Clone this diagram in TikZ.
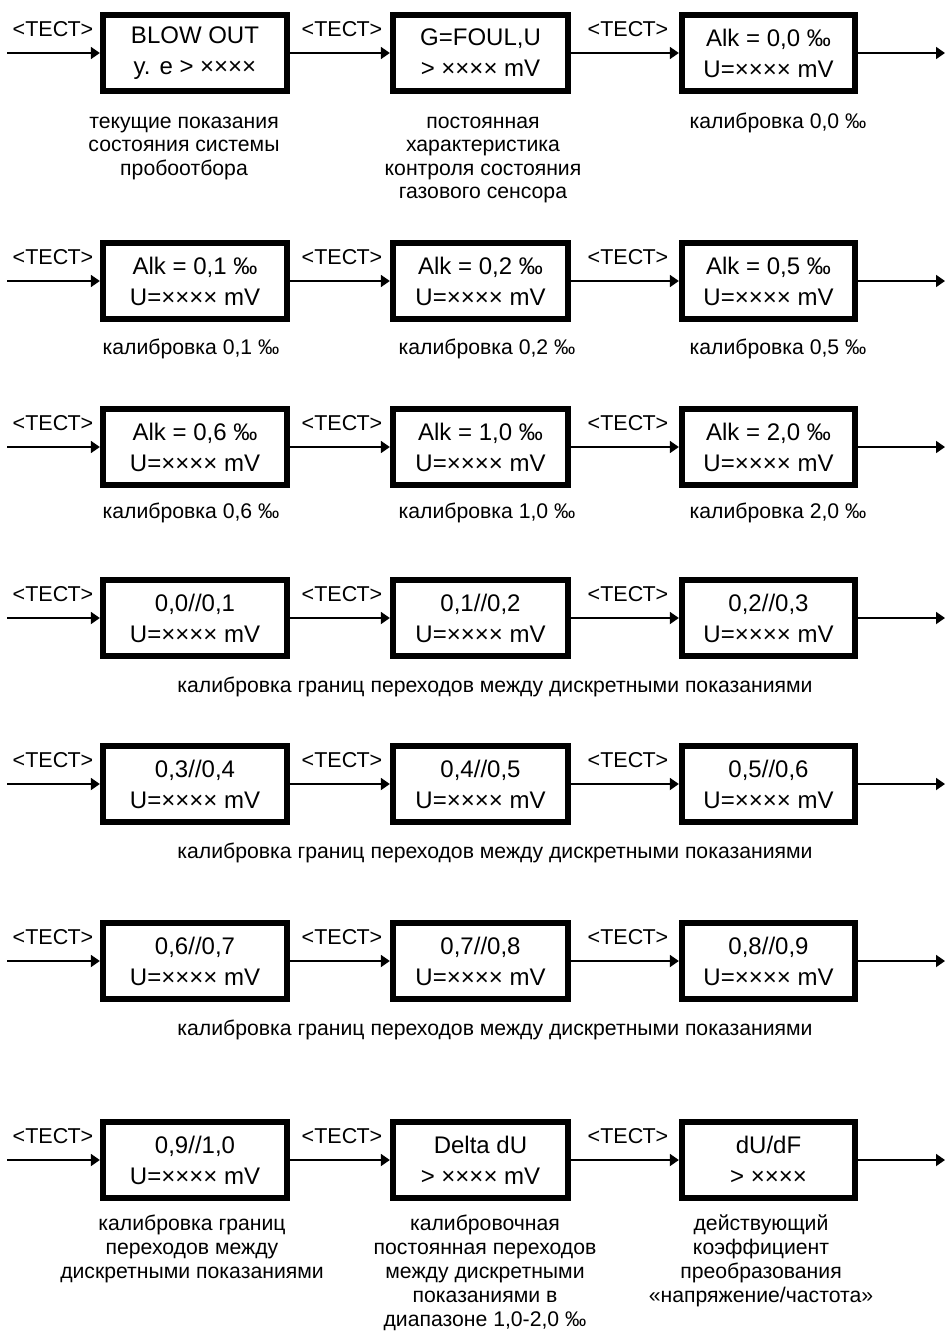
\documentclass[tikz,border=0pt]{standalone}
\usepackage{fontspec}
\setmainfont{Liberation Sans}
\usetikzlibrary{arrows.meta}
\newcommand\boxfont{\fontsize{24}{31}\selectfont}
\newcommand\capfont{\fontsize{21.2}{24}\selectfont}
\newcommand\capfonttight{\fontsize{21.2}{23.5}\selectfont}
\newcommand\lblfont{\fontsize{21.5}{24}\selectfont}
\tikzset{
  boxbase/.style={draw, line width=5.8pt, minimum height=76pt, inner sep=0pt, align=center, font=\boxfont},
  boxA/.style={boxbase, minimum width=184.5pt},
  boxB/.style={boxbase, minimum width=175.5pt},
  boxC/.style={boxbase, minimum width=173.5pt},
  arr/.style={line width=1.8pt, -{Triangle[length=9pt,width=12pt]}},
  lbl/.style={anchor=base, inner sep=0pt, font=\lblfont},
  capt/.style={anchor=north, inner sep=0pt, align=center, font=\capfont},
}
\newcommand\mkrow[5]{%
  \node[boxA] (#1a) at (195,#2) {#3};
  \node[boxB] (#1b) at (480.5,#2) {#4};
  \node[boxC] (#1c) at (768.5,#2) {#5};
  \coordinate (#1s) at (7,#2);
  \coordinate (#1e) at (945,#2);
  \draw[arr] (#1s) -- (#1a);
  \draw[arr] (#1a) -- (#1b);
  \draw[arr] (#1b) -- (#1c);
  \draw[arr] (#1c) -- (#1e);
  \node[lbl] (#1l1) at (53,#2-16.5) {<ТЕСТ>};
  \node[lbl] (#1l2) at (342,#2-16.5) {<ТЕСТ>};
  \node[lbl] (#1l3) at (628,#2-16.5) {<ТЕСТ>};
}
\begin{document}
\begin{tikzpicture}[x=1pt,y=-1pt]
\useasboundingbox[fill=white] (0,0) rectangle (946,1333);
% row 1
\mkrow{r1}{53}{BLOW OUT\\y. e > ××××}{G=FOUL,U\\> ×××× mV}{Alk = 0,0 ‰\\U=×××× mV}
\node[capt, font=\capfonttight] (r1ca) at (184,111.5) {\strut текущие показания\\состояния системы\\пробоотбора};
\node[capt, font=\capfonttight] (r1cb) at (483,111.5) {\strut постоянная\\характеристика\\контроля состояния\\газового сенсора};
\node[capt, font=\capfonttight] (r1cc) at (778,111.5) {\strut калибровка 0,0 ‰};
% row 2
\mkrow{r2}{281}{Alk = 0,1 ‰\\U=×××× mV}{Alk = 0,2 ‰\\U=×××× mV}{Alk = 0,5 ‰\\U=×××× mV}
\node[capt] (r2ca) at (191,337) {\strut калибровка 0,1 ‰};
\node[capt] (r2cb) at (487,337) {\strut калибровка 0,2 ‰};
\node[capt] (r2cc) at (778,337) {\strut калибровка 0,5 ‰};
% row 3
\mkrow{r3}{447}{Alk = 0,6 ‰\\U=×××× mV}{Alk = 1,0 ‰\\U=×××× mV}{Alk = 2,0 ‰\\U=×××× mV}
\node[capt] (r3ca) at (191,501) {\strut калибровка 0,6 ‰};
\node[capt] (r3cb) at (487,501) {\strut калибровка 1,0 ‰};
\node[capt] (r3cc) at (778,501) {\strut калибровка 2,0 ‰};
% row 4
\mkrow{r4}{618}{0,0//0,1\\U=×××× mV}{0,1//0,2\\U=×××× mV}{0,2//0,3\\U=×××× mV}
\node[capt] (r4c) at (495,675) {\strut калибровка границ переходов между дискретными показаниями};
% row 5
\mkrow{r5}{784}{0,3//0,4\\U=×××× mV}{0,4//0,5\\U=×××× mV}{0,5//0,6\\U=×××× mV}
\node[capt] (r5c) at (495,841) {\strut калибровка границ переходов между дискретными показаниями};
% row 6
\mkrow{r6}{961}{0,6//0,7\\U=×××× mV}{0,7//0,8\\U=×××× mV}{0,8//0,9\\U=×××× mV}
\node[capt] (r6c) at (495,1018) {\strut калибровка границ переходов между дискретными показаниями};
% row 7
\mkrow{r7}{1160}{0,9//1,0\\U=×××× mV}{Delta dU\\> ×××× mV}{dU/dF\\> ××××}
\node[capt] (r7ca) at (192,1213) {\strut калибровка границ\\переходов между\\дискретными показаниями};
\node[capt] (r7cb) at (485,1213) {\strut калибровочная\\постоянная переходов\\между дискретными\\показаниями в\\диапазоне 1,0-2,0 ‰};
\node[capt] (r7cc) at (761,1213) {\strut действующий\\коэффициент\\преобразования\\«напряжение/частота»};
\end{tikzpicture}
\end{document}
